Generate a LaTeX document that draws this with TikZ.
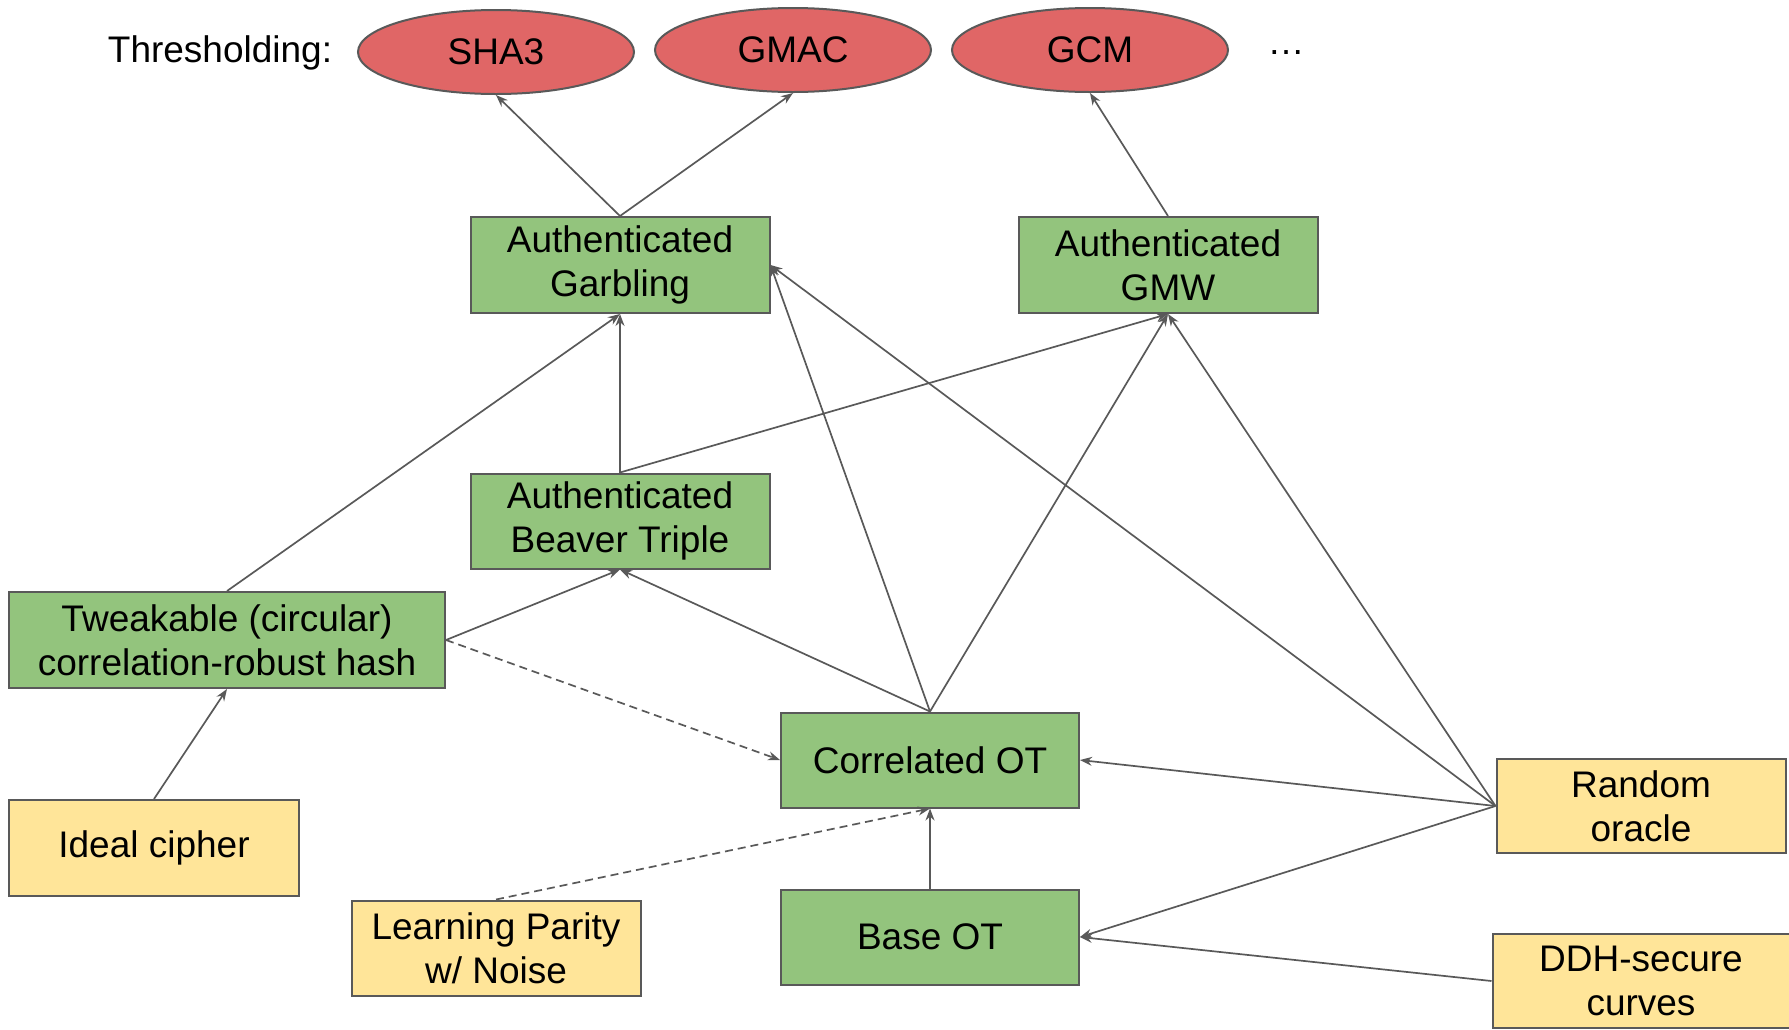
\documentclass[tikz,border=0pt]{standalone}
\usepackage{fontspec}
\setmainfont{Liberation Sans}
\usetikzlibrary{shapes.geometric,arrows.meta}
\definecolor{gfill}{HTML}{93C47D}
\definecolor{yfill}{HTML}{FFE599}
\definecolor{rfill}{HTML}{E06666}
\definecolor{edgec}{HTML}{595959}
\tikzset{
  txt/.style={font=\fontsize{37}{44}\selectfont},
  box/.style={draw=edgec, line width=2pt, rectangle, inner sep=0pt, align=center, txt},
  greenbox/.style={box, fill=gfill},
  yellowbox/.style={box, fill=yfill},
  oval/.style={draw=edgec, line width=2pt, ellipse, fill=rfill, inner sep=0pt,
    minimum width=276pt, minimum height=84pt, txt},
  conn/.style={draw=edgec, line width=1.7pt, -{Stealth[length=12pt,width=9pt]}},
  dconn/.style={conn, dash pattern=on 8pt off 5pt},
}
\begin{document}
\begin{tikzpicture}[x=1pt,y=-1pt]
\useasboundingbox (0,0) rectangle (1789,1029);
\node[txt] (thr) at (220,53) {Thresholding:};
\node[oval] (sha) at (496,52) {SHA3};
\node[oval] (gmac) at (793,50) {GMAC};
\node[oval] (gcm) at (1090,50) {GCM};
\node[txt, inner sep=0pt] (dots) at (1286,53) {\dots};

\node[greenbox, minimum width=299pt, minimum height=96pt] (gar) at (620,265) {Authenticated\\Garbling};
\node[greenbox, minimum width=299pt, minimum height=96pt] (gmw) at (1168,265) {Authenticated\\GMW};
\node[greenbox, minimum width=299pt, minimum height=95pt] (bea) at (620,521) {Authenticated\\Beaver Triple};
\node[greenbox, minimum width=436pt, minimum height=96pt] (tw) at (227,640) {Tweakable (circular)\\correlation-robust hash};
\node[greenbox, minimum width=298pt, minimum height=95pt] (cot) at (930,760) {Correlated OT};
\node[greenbox, minimum width=298pt, minimum height=95pt] (bot) at (930,937) {Base OT};
\node[yellowbox, minimum width=290pt, minimum height=96pt] (ic) at (154,848) {Ideal cipher};
\node[yellowbox, minimum width=289pt, minimum height=95pt] (lpn) at (496,948) {Learning Parity\\w/ Noise};
\node[yellowbox, minimum width=289pt, minimum height=94pt] (ro) at (1641,806) {Random\\oracle};
\node[yellowbox, minimum width=297pt, minimum height=94pt] (ddh) at (1641,981) {DDH-secure\\curves};

\draw[conn] (gar.north) -- (sha.south);
\draw[conn] (gar.north) -- (gmac.south);
\draw[conn] (gmw.north) -- (gcm.south);
\draw[conn] (bea.north) -- (gar.south);
\draw[conn] (bea.north) -- (gmw.south);
\draw[conn] (tw.north) -- (gar.south);
\draw[conn] (tw.east) -- (bea.south);
\draw[dconn] (tw.east) -- (cot.west);
\draw[conn] (cot.north) -- (bea.south);
\draw[conn] (cot.north) -- (gar.east);
\draw[conn] (cot.north) -- (gmw.south);
\draw[conn] (ro.west) -- (gar.east);
\draw[conn] (ro.west) -- (gmw.south);
\draw[conn] (ro.west) -- (cot.east);
\draw[conn] (ro.west) -- (bot.east);
\draw[conn] (ddh.west) -- (bot.east);
\draw[conn] (ic.north) -- (tw.south);
\draw[dconn] (lpn.north) -- (cot.south);
\draw[conn] (bot.north) -- (cot.south);
\end{tikzpicture}
\end{document}
